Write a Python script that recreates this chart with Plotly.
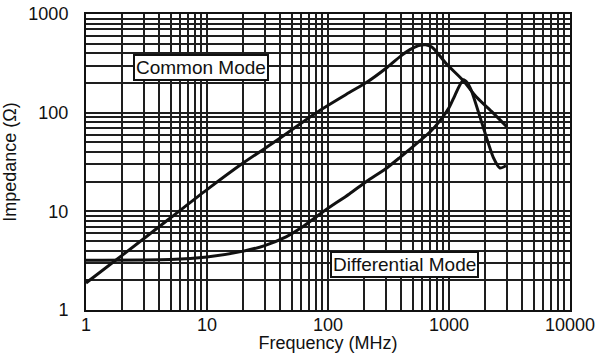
import math
import plotly.graph_objects as go

# Common Mode impedance curve (MHz, Ohm)
cm_freq = [1, 2, 5, 10, 20, 40, 80, 150, 209, 300, 394, 476, 560, 640, 720, 800, 955, 1313, 1694, 2300, 3000]
cm_imp = [1.88, 3.6, 8.6, 16.6, 31, 55, 100, 160, 203, 280, 370, 435, 478, 488, 462, 405, 311, 211, 143, 100, 72]

# Differential Mode impedance curve (MHz, Ohm)
dm_freq = [1, 5, 10, 20, 30, 45, 60, 91, 150, 209, 300, 394, 476, 576, 700, 843, 1000, 1100, 1200, 1313, 1420, 1538, 1919, 2322, 2638, 2958]
dm_imp = [3.2, 3.25, 3.45, 3.95, 4.5, 5.5, 6.8, 9.9, 15, 20.2, 27, 35.3, 42.8, 52, 64, 83, 112, 143, 180, 215, 200, 165, 71, 35.3, 27.5, 29]

x_decades = [1, 10, 100, 1000, 10000]
y_decades = [1, 10, 100, 1000]

labels = ["Common Mode", "Differential Mode"]
label_pos = [(9.0, 284), (430, 2.88)]


def grid_vals(decades):
    vals, txt = [], []
    for d in decades[:-1]:
        for m in range(1, 10):
            vals.append(d * m)
            txt.append(str(d) if m == 1 else "")
    vals.append(decades[-1])
    txt.append(str(decades[-1]))
    return vals, txt


xv, xt = grid_vals(x_decades)
yv, yt = grid_vals(y_decades)

FONT = "Liberation Sans, Arial, Helvetica, sans-serif"
INK = "#111111"

fig = go.Figure()
fig.add_trace(go.Scatter(x=cm_freq, y=cm_imp, mode="lines",
                         line=dict(color=INK, width=3, shape="spline", smoothing=0.8),
                         name="Common Mode", showlegend=False))
fig.add_trace(go.Scatter(x=dm_freq, y=dm_imp, mode="lines",
                         line=dict(color=INK, width=3, shape="spline", smoothing=0.6),
                         name="Differential Mode", showlegend=False))

for text, (fx, fy) in zip(labels, label_pos):
    fig.add_annotation(x=math.log10(fx), y=math.log10(fy), xref="x", yref="y",
                       text=text, showarrow=False,
                       font=dict(family=FONT, size=19, color=INK),
                       bgcolor="white", bordercolor=INK, borderwidth=2, borderpad=1)

fig.update_xaxes(type="log", range=[0, 4], tickvals=xv, ticktext=xt,
                 showgrid=True, gridcolor="#1e1e1e", gridwidth=1.5,
                 showline=True, linecolor=INK, linewidth=2, mirror=True,
                 ticks="", ticklabelstandoff=-3, zeroline=False, automargin=False,
                 tickfont=dict(family=FONT, size=18, color=INK),
                 title=dict(text="Frequency (MHz)", standoff=4,
                            font=dict(family=FONT, size=18, color=INK)))
fig.update_yaxes(type="log", range=[0, 3], tickvals=yv, ticktext=yt,
                 showgrid=True, gridcolor="#1e1e1e", gridwidth=1.5,
                 showline=True, linecolor=INK, linewidth=2, mirror=True,
                 ticks="", ticklabelstandoff=12, zeroline=False, automargin=False,
                 tickfont=dict(family=FONT, size=18, color=INK),
                 title=dict(text="Impedance (Ω)", standoff=8,
                            font=dict(family=FONT, size=18, color=INK)))

fig.update_layout(width=600, height=353, margin=dict(l=86, r=30, t=14, b=43),
                  paper_bgcolor="white", plot_bgcolor="white")

fig.write_html("out.html")
